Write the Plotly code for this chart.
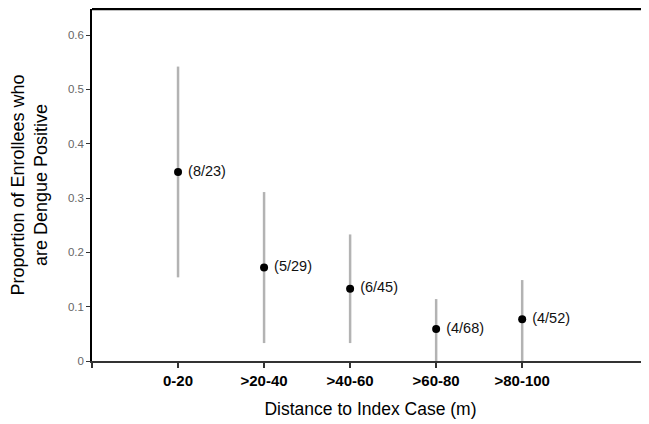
import plotly.graph_objects as go

categories = ["0-20", ">20-40", ">40-60", ">60-80", ">80-100"]
proportion = [0.348, 0.172, 0.133, 0.059, 0.077]
ci_upper = [0.542, 0.311, 0.233, 0.114, 0.149]
ci_lower = [0.154, 0.033, 0.033, 0.0, 0.0]
labels = ["(8/23)", "(5/29)", "(6/45)", "(4/68)", "(4/52)"]
y_ticks = [0, 0.1, 0.2, 0.3, 0.4, 0.5, 0.6]
y_tick_text = ["0", "0.1", "0.2", "0.3", "0.4", "0.5", "0.6"]

xs = list(range(len(categories)))
err_plus = [u - p for u, p in zip(ci_upper, proportion)]
err_minus = [p - l for p, l in zip(proportion, ci_lower)]

fig = go.Figure()
fig.add_trace(go.Scatter(
    x=xs, y=proportion, mode="markers+text",
    text=[" " + t for t in labels], textposition="middle right",
    textfont=dict(family="Liberation Sans, Arial", size=14.5, color="#111"),
    marker=dict(color="black", size=8),
    error_y=dict(type="data", symmetric=False, array=err_plus, arrayminus=err_minus,
                 color="#b3b3b3", thickness=2.5, width=0),
    showlegend=False, cliponaxis=False,
))

fig.update_layout(
    width=641, height=416,
    margin=dict(l=84, r=0, t=1, b=63),
    paper_bgcolor="white", plot_bgcolor="white",
    font=dict(family="Liberation Sans, Arial"),
    xaxis=dict(
        range=[-1, 5.474], tickvals=[-1] + xs, ticktext=[""] + categories,
        tickfont=dict(size=15, color="black", weight="bold"),
        showgrid=False, zeroline=False, showline=True, linecolor="#333", linewidth=1.5,
        ticks="outside", ticklen=5, tickcolor="#333", tickwidth=1.5,
        title=dict(text="Distance to Index Case (m)", font=dict(size=17.5, color="black"), standoff=15),
    ),
    yaxis=dict(
        range=[0, 0.648], tickvals=y_ticks, ticktext=y_tick_text,
        tickfont=dict(size=11.5, color="#666"),
        showgrid=False, zeroline=False, showline=True, linecolor="black", linewidth=1.5,
        ticks="outside", ticklen=4, tickcolor="#333", tickwidth=1,
        title=dict(text="Proportion of Enrollees who<br>are Dengue Positive",
                   font=dict(size=18, color="black"), standoff=19),
    ),
    shapes=[dict(type="line", xref="paper", yref="paper", x0=0, x1=1, y0=1, y1=1,
                 line=dict(color="black", width=2.5))],
)

fig.write_html("out.html")
